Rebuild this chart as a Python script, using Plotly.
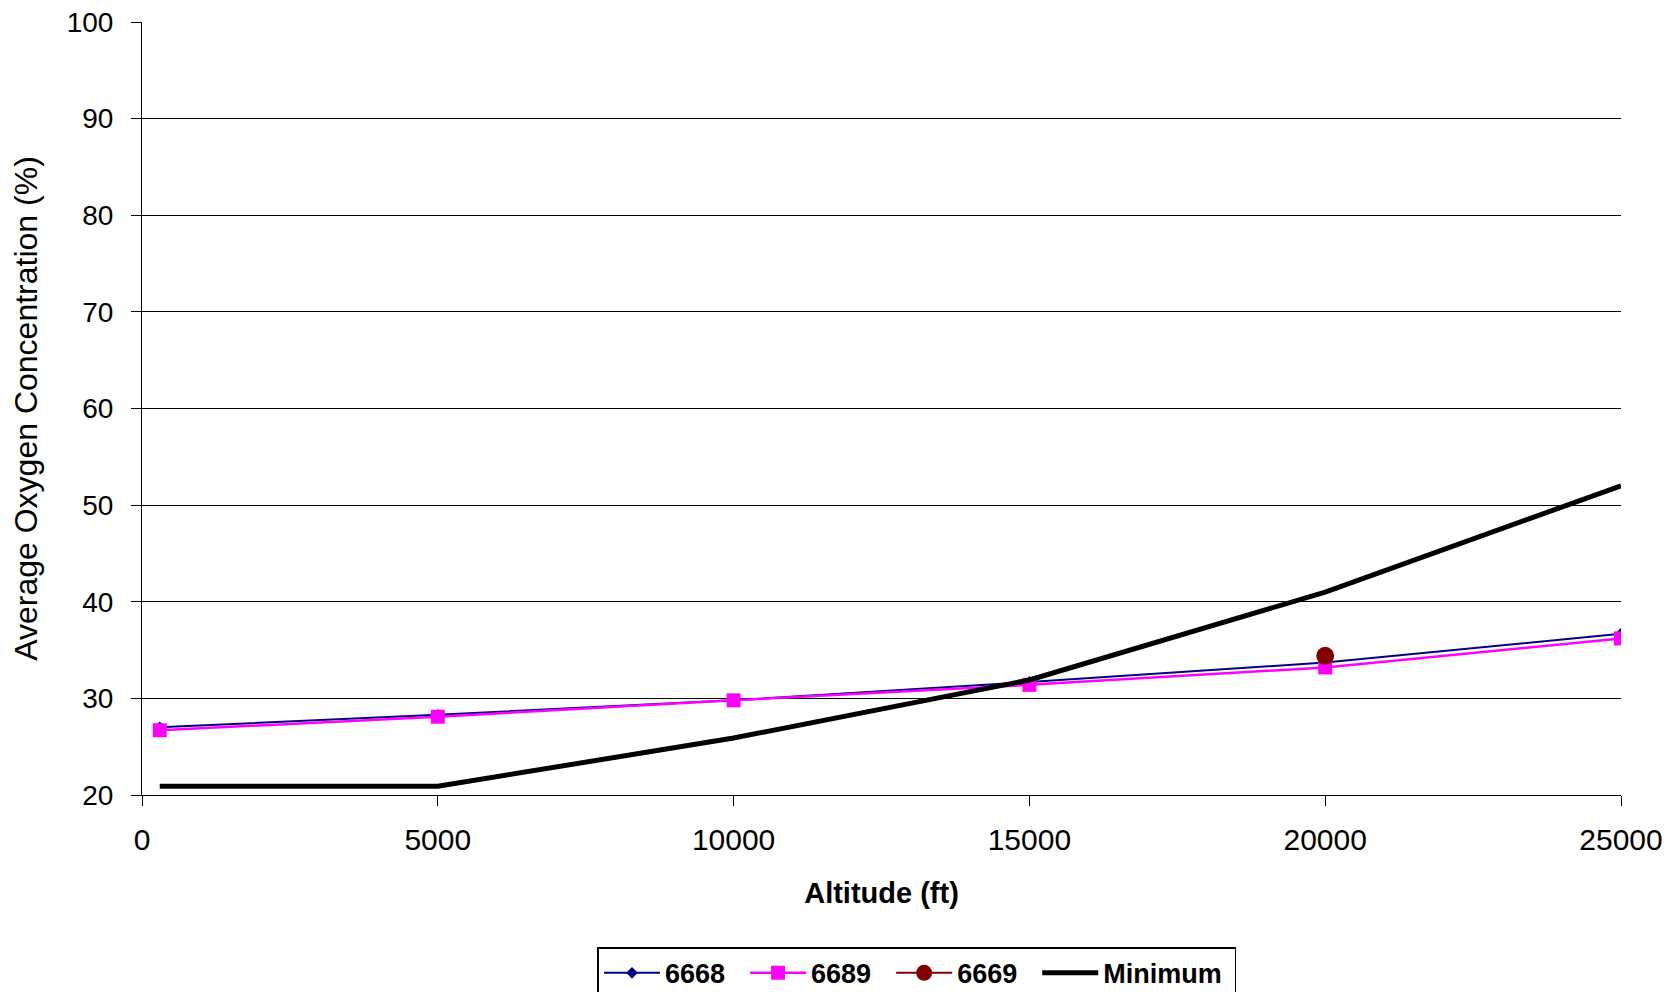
import plotly.graph_objects as go

altitude = [300, 5000, 10000, 15000, 20000, 25000]
s6668 = [27.0, 28.3, 29.8, 31.7, 33.7, 36.7]
s6689 = [26.7, 28.1, 29.8, 31.4, 33.2, 36.2]
alt6669 = [20000]
s6669 = [34.4]
minimum = [20.9, 20.9, 25.9, 31.9, 41.0, 52.0]
series_names = ["6668", "6689", "6669", "Minimum"]

FONT = "Liberation Sans, Arial, sans-serif"
PAD = "&nbsp;&nbsp;"

fig = go.Figure()
fig.add_trace(go.Scatter(x=altitude, y=s6668, name=series_names[0] + PAD, mode="lines+markers",
                         line=dict(color="#000080", width=2),
                         marker=dict(symbol="diamond", size=9, color="#000080")))
fig.add_trace(go.Scatter(x=altitude, y=s6689, name=series_names[1] + PAD, mode="lines+markers",
                         line=dict(color="#FF00FF", width=2.5),
                         marker=dict(symbol="square", size=14, color="#FF00FF")))
fig.add_trace(go.Scatter(x=alt6669, y=s6669, name=series_names[2] + PAD, mode="lines+markers",
                         line=dict(color="#800000", width=2),
                         marker=dict(symbol="circle", size=18, color="#800000")))
fig.add_trace(go.Scatter(x=altitude, y=minimum, name=series_names[3] + "&nbsp;", mode="lines",
                         line=dict(color="#000000", width=5)))

fig.update_layout(
    width=1677, height=992,
    paper_bgcolor="white", plot_bgcolor="white",
    margin=dict(l=134, r=64, t=14, b=205, autoexpand=False),
    font=dict(family=FONT, color="black", size=27),
    showlegend=True,
    legend=dict(orientation="h", x=0.524, xanchor="center", y=-0.197, yanchor="top",
                bordercolor="black", borderwidth=1.5, bgcolor="white",
                font=dict(family=FONT, size=27, color="black", weight="bold"),
                itemwidth=56, traceorder="normal"),
)
fig.update_xaxes(range=[0, 25000], tickvals=[0, 5000, 10000, 15000, 20000, 25000],
                 ticktext=["0", "5000", "10000", "15000", "20000", "25000"],
                 showgrid=False, showline=True, linecolor="black", linewidth=1,
                 ticks="outside", ticklen=10, tickcolor="black", ticklabelstandoff=8,
                 ticklabeloverflow="allow",
                 tickfont=dict(size=30), zeroline=False,
                 title=dict(text="<b>Altitude (ft)</b>", font=dict(size=29), standoff=27))
fig.update_yaxes(range=[20, 100], tickvals=list(range(20, 101, 10)),
                 showgrid=True, gridcolor="black", gridwidth=1,
                 showline=True, linecolor="black", linewidth=1,
                 ticks="outside", ticklen=10, tickcolor="black", ticklabelstandoff=12,
                 ticklabeloverflow="allow",
                 tickfont=dict(size=28), zeroline=False,
                 title=dict(text="Average Oxygen Concentration (%)", font=dict(size=32), standoff=27))

fig.write_html("out.html")
